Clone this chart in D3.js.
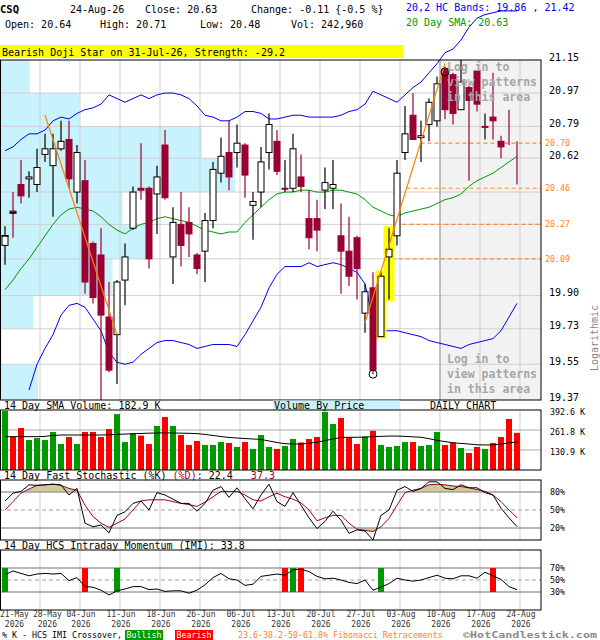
<!DOCTYPE html>
<html>
<head>
<meta charset="utf-8">
<script src="https://cdn.jsdelivr.net/npm/d3@7"></script>
<style>
body{margin:0;background:#fff}
svg{display:block;font-family:"DejaVu Sans Mono",monospace}
text{white-space:pre}
</style>
</head>
<body>
<svg id="chart" width="600" height="640"></svg>
<script>
// daily candles, 21-May-26 .. 24-Aug-26 (65 sessions)
const opens = [20.16,20.34,20.48,20.51,20.48,20.64,20.58,20.67,20.72,20.44,
20.50,20.17,20.11,19.79,19.70,19.98,20.25,20.46,20.46,20.43,
20.69,20.10,20.27,20.28,20.11,20.13,20.29,20.54,20.65,20.65,
20.69,20.37,20.44,20.65,20.71,20.46,20.46,20.52,20.30,20.30,
20.45,20.46,20.21,20.13,20.20,19.81,19.94,19.69,20.10,20.21,
20.65,20.85,20.73,20.80,20.82,21.10,21.07,20.88,21.00,21.09,
20.79,20.84,20.71,20.87,20.64]
const highs = [20.26,20.44,20.61,20.55,20.67,20.75,20.75,20.82,20.82,20.69,
20.61,20.18,20.25,19.97,19.98,20.17,20.47,20.70,20.47,20.58,
20.77,20.36,20.44,20.36,20.12,20.33,20.60,20.73,20.82,20.80,
20.70,20.44,20.68,20.86,20.77,20.61,20.75,20.64,20.45,20.40,
20.57,20.61,20.38,20.31,20.21,19.96,20.02,20.02,20.25,20.61,
20.90,20.97,20.82,20.94,21.06,21.11,21.08,21.15,21.01,21.09,
20.86,21.08,20.74,20.88,20.71]
const lows = [20.06,20.20,20.38,20.41,20.44,20.60,20.31,20.66,20.46,20.38,
19.91,19.86,19.37,19.51,19.45,19.85,20.24,20.40,20.04,20.22,
20.40,19.96,20.05,20.10,20.01,19.97,20.25,20.49,20.45,20.57,
20.41,20.19,20.36,20.56,20.53,20.44,20.44,20.44,20.14,20.13,
20.35,20.35,19.91,19.95,19.88,19.71,19.50,19.69,19.88,20.16,
20.61,20.72,20.60,20.71,20.79,20.83,20.80,20.88,20.50,20.87,
20.72,20.72,20.62,20.69,20.48]
const closes = [20.21,20.33,20.42,20.52,20.57,20.67,20.67,20.71,20.51,20.65,
19.97,19.89,19.80,19.52,19.97,20.10,20.44,20.45,20.09,20.52,
20.41,20.28,20.16,20.22,20.04,20.29,20.56,20.63,20.52,20.70,
20.53,20.39,20.60,20.80,20.55,20.46,20.67,20.47,20.20,20.24,
20.49,20.48,20.13,20.00,20.04,19.92,19.52,20.00,20.14,20.54,
20.75,20.72,20.74,20.92,21.02,20.88,20.86,21.03,20.93,20.91,
20.79,20.82,20.68,20.74,20.63]

const upperBand = [20.66,20.68,20.72,20.75,20.75,20.77,20.82,20.84,20.83,20.86,
20.88,20.89,20.91,20.96,20.94,20.92,20.94,20.96,20.94,20.96,
20.97,20.97,20.96,20.94,20.90,20.85,20.84,20.82,20.82,20.84,
20.87,20.87,20.86,20.83,20.83,20.84,20.85,20.85,20.84,20.84,
20.84,20.84,20.85,20.87,20.88,20.91,20.98,20.96,20.94,20.92,
20.96,21.00,21.03,21.08,21.13,21.19,21.21,21.26,21.33,21.38,
21.40,21.41,21.42,21.42,21.42]
const lowerBand = [null,null,null,19.42,19.55,19.63,19.70,19.80,19.85,19.86,
19.84,19.78,19.72,19.61,19.56,19.55,19.56,19.60,19.63,19.66,
19.67,19.67,19.66,19.65,19.63,19.64,19.65,19.65,19.65,19.64,
19.70,19.77,19.84,19.94,20.01,20.05,20.05,20.05,20.07,20.05,
20.06,20.07,20.06,20.04,20.02,19.96,19.78,19.72,19.72,19.72,
19.71,19.70,19.69,19.67,19.66,19.65,19.64,19.63,19.65,19.66,
19.67,19.68,19.72,19.79,19.86]
const sma20 = [19.93,19.98,20.04,20.09,20.15,20.21,20.27,20.32,20.35,20.36,
20.35,20.34,20.31,20.27,20.24,20.22,20.25,20.27,20.28,20.30,
20.31,20.30,20.29,20.28,20.26,20.24,20.23,20.22,20.23,20.23,
20.28,20.32,20.36,20.40,20.43,20.44,20.44,20.45,20.45,20.44,
20.44,20.45,20.45,20.44,20.43,20.40,20.36,20.34,20.32,20.31,
20.33,20.34,20.35,20.36,20.38,20.40,20.41,20.43,20.47,20.50,
20.52,20.54,20.57,20.60,20.63]

// volume in thousands
const volume = [386,218,275,196,209,196,249,170,216,170,
249,249,216,268,366,183,242,225,170,288,
347,288,229,164,190,164,164,183,177,151,
183,138,229,151,138,157,203,180,203,216,
381,301,340,212,170,218,257,164,151,157,
183,183,157,164,249,164,179,144,111,151,
138,177,216,334,243]
const volSma = [218,218,218,218,218,220,226,229,229,229,
229,229,229,230,233,235,237,239,241,242,
243,242,241,240,238,233,226,219,213,209,
206,203,200,190,180,172,170,170,175,182,
192,203,213,214,214,216,218,220,222,222,
220,217,214,205,194,186,178,174,170,165,
164,164,170,178,183]

const stochK = [65,78,81,92,91,92,93,92,75,86,
28,22,25,12,41,47,61,65,50,79,
75,68,61,61,48,61,83,89,71,87,
69,52,75,93,64,56,79,58,37,19,
31,48,33,11,17,15,0,41,50,83,
89,81,86,97,97,86,84,92,87,87,
79,75,53,37,22.4]
const stochD = [50,64,78,85,91,92,93,91,86,83,
58,39,28,21,28,35,50,65,67,67,
67,64,61,59,56,63,72,81,81,81,
75,67,65,72,78,72,68,62,50,32,
37,41,41,28,18,16,14,22,36,58,
79,83,86,92,93,92,90,89,87,84,
81,75,64,50,37.3]
const imi = [59,65,61,57,60,61,60,61,49,54,
39,38,33,25,32,35,39,39,34,35,
31,32,32,28,33,42,54,61,52,50,
41,43,56,58,60,58,67,68,64,56,
52,53,50,46,44,50,33,38,44,53,
50,48,50,54,58,53,52,57,57,53,
63,57,51,39,33.8]
const imiBullish = [0,14,36,47]
const imiBearish = [10,35,37,61]

// volume by price, millions, buckets from the top price band down
const vbpVolume = [0.9,2.4,6.1,7.1,3.7,4.45,3.4,1.0,0.05,1.15]

const priceGrid = [21.15,20.97,20.79,20.62,20.44,20.27,20.09,19.90,19.73,19.55,19.37]
const priceLabels = [21.15,20.97,20.79,20.62,19.90,19.73,19.55,19.37]
const fibLevels = [20.70,20.46,20.27,20.09]
const volTicks = [392.6,261.8,130.9]
const stochTicks = [80,50,20]
const imiTicks = [70,50,30]

const dateLabels = ['21-May','28-May','04-Jun','11-Jun','18-Jun','26-Jun','06-Jul','13-Jul','20-Jul','27-Jul','03-Aug','10-Aug','17-Aug','24-Aug']
const dateIdx = [0,4,9,14,19,24,29,34,39,44,49,54,59,64]

const trendIdx = [[5,14],[45,55]]
const trendPrice = [[20.85,19.70],[19.76,21.13]]
const patternIdx = [47,48]
const swingIdx = [46,55]
const swingPrice = [19.50,21.085]
const hiddenFrom = 54

let svg = d3.select('#chart')
const W = 541
let x = d3.scaleLinear().domain([0,64]).range([5,517])
let y = d3.scaleLog().domain([19.37,21.15]).range([400,60])
let yVol = d3.scaleLinear().domain([0,392.6]).range([470,410])
let ySto = d3.scaleLinear().domain([0,100]).range([540,480])
let yImi = d3.scaleLinear().domain([0,100]).range([610,550])
let gridX = (i) => x(i) + 3
const RED = '#990033'

let txt = (g, tx, ty, s, size, fill, weight) => g.append('text')
    .attr('x', tx).attr('y', ty).attr('font-size', size)
    .attr('fill', fill || '#000').attr('font-weight', weight || 'normal').text(s)

// header
txt(svg, 0, 13, 'CSQ', 10.5, '#000', 'bold')
txt(svg, 70, 13, '24-Aug-26', 10)
txt(svg, 145, 13, 'Close: ' + closes[64].toFixed(2), 10)
txt(svg, 251, 13, 'Change: -0.11 {-0.5 %}', 10)
txt(svg, 5, 28, 'Open: ' + opens[64].toFixed(2), 10)
txt(svg, 100, 28, 'High: ' + highs[64].toFixed(2), 10)
txt(svg, 200, 28, 'Low: ' + lows[64].toFixed(2), 10)
txt(svg, 291, 28, 'Vol: 242,960', 10)
txt(svg, 406, 11, '20,2 HC Bands: 19.86 , 21.42', 10, '#0000ee')
txt(svg, 406, 26, '20 Day SMA: 20.63', 10, '#009900')
svg.append('rect').attr('x',0).attr('y',45).attr('width',403).attr('height',13).attr('fill','#ffff00')
txt(svg, 2, 55.5, 'Bearish Doji Star on 31-Jul-26, Strength: -29.2', 10)

// main panel background: volume by price
let vbpX = d3.scaleLinear().domain([0, d3.max(vbpVolume)]).range([0,235])
svg.selectAll('.vbp').data(vbpVolume).enter().append('rect')
    .attr('x', 0)
    .attr('y', (d,k) => y(priceGrid[k]))
    .attr('width', d => vbpX(d))
    .attr('height', (d,k) => y(priceGrid[k+1]) - y(priceGrid[k]))
    .attr('fill', '#c8f2fc')
svg.append('rect').attr('x', gridX(hiddenFrom)).attr('y', 60)
    .attr('width', W - gridX(hiddenFrom)).attr('height', 340).attr('fill', '#f2f2f2')

// grids for all panels
let panels = [[60,400],[410,470],[480,540],[550,610]]
panels.forEach(p => {
    svg.selectAll(null).data(dateIdx.filter(i => i >= 4)).enter().append('line')
        .attr('x1', gridX).attr('x2', gridX).attr('y1', p[0]).attr('y2', p[1])
        .attr('stroke', '#cfcfcf')
})
svg.selectAll(null).data(priceGrid.slice(1, -1)).enter().append('line')
    .attr('x1', 0).attr('x2', W).attr('y1', d => y(d)).attr('y2', d => y(d))
    .attr('stroke', '#cfcfcf')
svg.append('line').attr('x1', gridX(hiddenFrom)).attr('x2', gridX(hiddenFrom))
    .attr('y1', 60).attr('y2', 400).attr('stroke', '#999')

// fibonacci retracements start where the rising trend line crosses them
let tx0 = x(trendIdx[1][0]), ty0 = y(trendPrice[1][0])
let tx1 = x(trendIdx[1][1]), ty1 = y(trendPrice[1][1])
let fibStart = (lv) => tx0 + (y(lv) - ty0) / (ty1 - ty0) * (tx1 - tx0)
svg.selectAll('.fib').data(fibLevels).enter().append('line')
    .attr('x1', d => fibStart(d)).attr('x2', W)
    .attr('y1', d => y(d)).attr('y2', d => y(d))
    .attr('stroke', '#ff8a3d').attr('stroke-width', 1.2).attr('stroke-dasharray', '4,3')

// bands and moving average
let lineOf = (ys) => d3.line().defined(d => d != null).x((d,i) => x(i)).y(d => ys(d))
svg.append('path').datum(sma20).attr('d', lineOf(y)).attr('fill','none').attr('stroke','#009900')
svg.append('path').datum(lowerBand).attr('d', lineOf(y)).attr('fill','none').attr('stroke','#0000ee')
svg.append('path').datum(upperBand).attr('d', lineOf(y)).attr('fill','none').attr('stroke','#0000ee')

// candlestick pattern highlight
svg.selectAll('.pat').data(patternIdx).enter().append('rect')
    .attr('x', i => x(i) - 5.5).attr('width', 11)
    .attr('y', i => y(highs[i]) - 2)
    .attr('height', i => y(lows[i]) - y(highs[i]) + 4)
    .attr('fill', '#ffff00')

// candles
let candles = svg.selectAll('.candle').data(opens).enter().append('g')
let tone = (i) => closes[i] > opens[i] ? 'up' : (closes[i] < opens[i] ? 'down' : 'doji')
candles.append('line')
    .attr('x1', (d,i) => x(i)).attr('x2', (d,i) => x(i))
    .attr('y1', (d,i) => y(highs[i])).attr('y2', (d,i) => y(lows[i]))
    .attr('stroke', (d,i) => tone(i) == 'down' ? RED : '#000').attr('stroke-width', 1.2)
candles.filter((d,i) => tone(i) != 'doji').append('rect')
    .attr('x', (d,i) => x(i) - 3).attr('width', 6)
    .attr('y', (d,i) => y(Math.max(opens[i], closes[i])))
    .attr('height', (d,i) => Math.max(1, Math.abs(y(opens[i]) - y(closes[i]))))
    .attr('fill', (d,i) => tone(i) == 'up' ? '#fff' : RED)
    .attr('stroke', (d,i) => tone(i) == 'up' ? '#000' : RED)
candles.filter((d,i) => tone(i) == 'doji').append('line')
    .attr('x1', (d,i) => x(i) - 3.5).attr('x2', (d,i) => x(i) + 3.5)
    .attr('y1', (d,i) => y(closes[i])).attr('y2', (d,i) => y(closes[i]))
    .attr('stroke', '#000').attr('stroke-width', 1.5)

// trend lines and swing points
svg.selectAll('.trend').data(trendIdx).enter().append('line')
    .attr('x1', d => x(d[0])).attr('x2', d => x(d[1]))
    .attr('y1', (d,k) => y(trendPrice[k][0])).attr('y2', (d,k) => y(trendPrice[k][1]))
    .attr('stroke', '#ff8000').attr('stroke-width', 1.2)
svg.selectAll('.swing').data(swingIdx).enter().append('circle')
    .attr('cx', d => x(d)).attr('cy', (d,k) => y(swingPrice[k])).attr('r', 4)
    .attr('fill', 'none').attr('stroke', '#000')

// locked area text
let lockX = gridX(hiddenFrom) + 7
;[[71,'Log in to'],[86,'view patterns'],[101,'in this area'],
  [363,'Log in to'],[378,'view patterns'],[393,'in this area']].forEach(r => {
    txt(svg, lockX, r[0], r[1], 11.5, '#a6a6a6', 'bold')
})

// main frame and price axis
svg.append('rect').attr('x',0.5).attr('y',60).attr('width',W-0.5).attr('height',340)
    .attr('fill','none').attr('stroke','#000')
svg.selectAll('.plab').data(priceLabels).enter().append('text')
    .attr('x', 549).attr('y', d => y(d) + 0.5).attr('font-size', 10).text(d => d.toFixed(2))
svg.selectAll('.flab').data(fibLevels).enter().append('text')
    .attr('x', 545).attr('y', d => y(d) + 3).attr('font-size', 8.3).attr('fill', '#ff7f27')
    .text(d => d.toFixed(2))
svg.append('text').attr('transform', 'translate(598,338) rotate(-90)')
    .attr('text-anchor', 'middle').attr('font-size', 10).attr('fill', '#888').text('Logarithmic')

// volume panel
svg.append('rect').attr('x',273).attr('y',400.5).attr('width',127).attr('height',9.5).attr('fill','#c8f2fc')
txt(svg, 274, 408.5, 'Volume By Price', 10)
txt(svg, 430, 408.5, 'DAILY CHART', 10)
txt(svg, 4, 408.5, '14 Day SMA Volume: 182.9 K', 10)
svg.selectAll(null).data(volTicks.slice(1)).enter().append('line')
    .attr('x1',0).attr('x2',W).attr('y1', d => yVol(d)).attr('y2', d => yVol(d)).attr('stroke','#a8a8a8')
svg.selectAll('.vol').data(volume).enter().append('rect')
    .attr('x', (d,i) => x(i) - 3).attr('width', 6)
    .attr('y', d => yVol(d)).attr('height', d => 470 - yVol(d))
    .attr('fill', (d,i) => tone(i) == 'down' ? '#ff0000' : '#009900')
svg.append('path').datum(volSma).attr('d', lineOf(yVol)).attr('fill','none').attr('stroke','#000')
svg.append('rect').attr('x',0.5).attr('y',410).attr('width',W-0.5).attr('height',60).attr('fill','none').attr('stroke','#000')
svg.selectAll('.vlab').data(volTicks).enter().append('text')
    .attr('x', 550).attr('y', d => yVol(d) + 5).attr('font-size', 8.3).text(d => d.toFixed(1) + ' K')

// stochastic panel
let sl = svg.append('text').attr('x', 4).attr('y', 479).attr('font-size', 10)
sl.append('tspan').text('14 Day Fast Stochastic (%K) ')
sl.append('tspan').attr('fill', RED).text('(%D)')
sl.append('tspan').text(': ' + stochK[64].toFixed(1) + '   ')
sl.append('tspan').attr('fill', RED).text(stochD[64].toFixed(1))
let defs = svg.append('defs')
defs.append('clipPath').attr('id','stoHi').append('rect')
    .attr('x',0).attr('y',480).attr('width',W).attr('height',ySto(80)-480)
defs.append('clipPath').attr('id','stoLo').append('rect')
    .attr('x',0).attr('y',ySto(20)).attr('width',W).attr('height',540-ySto(20))
svg.append('path').datum(stochD)
    .attr('d', d3.area().x((d,i) => x(i)).y0(ySto(80)).y1(d => ySto(d)))
    .attr('fill','#cccc99').attr('clip-path','url(#stoHi)')
svg.append('path').datum(stochD)
    .attr('d', d3.area().x((d,i) => x(i)).y0(ySto(20)).y1(d => ySto(d)))
    .attr('fill','#cccc99').attr('clip-path','url(#stoLo)')
svg.selectAll(null).data(stochTicks).enter().append('line')
    .attr('x1',0).attr('x2',W).attr('y1', d => ySto(d)).attr('y2', d => ySto(d))
    .attr('stroke','#a0a0a0').attr('stroke-width', d => d == 50 ? 1 : 1.5)
    .attr('stroke-dasharray', d => d == 50 ? '4,3' : null)
svg.append('path').datum(stochD).attr('d', lineOf(ySto)).attr('fill','none').attr('stroke',RED)
svg.append('path').datum(stochK).attr('d', lineOf(ySto)).attr('fill','none').attr('stroke','#000')
svg.append('rect').attr('x',0.5).attr('y',480).attr('width',W-0.5).attr('height',60).attr('fill','none').attr('stroke','#000')
svg.selectAll('.slab').data(stochTicks).enter().append('text')
    .attr('x', 550).attr('y', d => ySto(d) + 3).attr('font-size', 8.3).text(d => d + '%')

// intraday momentum panel
txt(svg, 4, 549, '14 Day HCS Intraday Momentum (IMI): ' + imi[64].toFixed(1), 10)
svg.selectAll(null).data(imiTicks).enter().append('line')
    .attr('x1',0).attr('x2',W).attr('y1', d => yImi(d)).attr('y2', d => yImi(d))
    .attr('stroke','#a0a0a0').attr('stroke-width', d => d == 50 ? 1 : 1.5)
    .attr('stroke-dasharray', d => d == 50 ? '4,3' : null)
let cross = imiBullish.map(i => [i,'#009900']).concat(imiBearish.map(i => [i,'#ff0000']))
svg.selectAll('.cross').data(cross).enter().append('rect')
    .attr('x', d => x(d[0]) - 3).attr('width', 6)
    .attr('y', yImi(70)).attr('height', yImi(30) - yImi(70))
    .attr('fill', d => d[1])
svg.append('path').datum(imi).attr('d', lineOf(yImi)).attr('fill','none').attr('stroke','#000')
svg.append('rect').attr('x',0.5).attr('y',550).attr('width',W-0.5).attr('height',60).attr('fill','none').attr('stroke','#000')
svg.selectAll('.ilab').data(imiTicks).enter().append('text')
    .attr('x', 550).attr('y', d => yImi(d) + 3).attr('font-size', 8.3).text(d => d + '%')

// date axis
let prevRight = -10
dateIdx.forEach((i, k) => {
    let t = txt(svg, 0, 617, dateLabels[k], 8, '#333')
    let w = t.node().getComputedTextLength()
    let left = Math.max(0, gridX(i) + 1 - w / 2, prevRight + 4)
    t.attr('x', left)
    prevRight = left + w
    txt(svg, left + w / 2, 626.5, '2026', 8, '#333').attr('text-anchor', 'middle')
})

// footer
txt(svg, 2, 637.5, '% K - HCS IMI Crossover,', 8.3)
svg.append('rect').attr('x',125).attr('y',630).attr('width',38).attr('height',10).attr('fill','#009900')
txt(svg, 144, 637.5, 'Bullish', 8.3, '#fff').attr('text-anchor','middle')
svg.append('rect').attr('x',175).attr('y',630).attr('width',38).attr('height',10).attr('fill','#ff0000')
txt(svg, 194, 637.5, 'Bearish', 8.3, '#fff').attr('text-anchor','middle')
txt(svg, 238, 637.5, '23.6-38.2-50-61.8% Fibonacci Retracements', 8.3, '#ff7f27')
txt(svg, 463, 637.8, '\u00a9HotCandlestick.com', 9.5, '#8a8a8a', 'bold')
    .attr('textLength', 134).attr('lengthAdjust', 'spacingAndGlyphs')
</script>
</body>
</html>
